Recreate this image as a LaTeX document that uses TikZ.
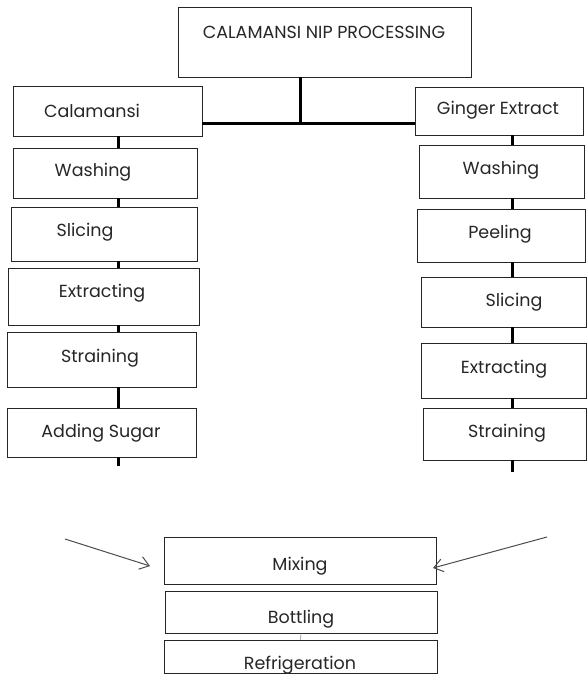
\documentclass[tikz,border=0pt]{standalone}
\usepackage{fontspec}
\newfontfamily\stepfont{Poppins}
\usepackage{tikz}
\usetikzlibrary{arrows.meta}

\begin{document}
\begin{tikzpicture}[
  x=1pt, y=-1pt,
  stepbox/.style={draw=black!85, line width=0.9pt, inner sep=0pt},
  steptext/.style={font=\stepfont\fontsize{17.5}{20}\selectfont, text=black!85, anchor=base, inner sep=0pt},
  link/.style={line width=3pt, black},
  thinlink/.style={line width=0.6pt, black!45},
  feed/.style={-{Straight Barb[length=9pt,width=13pt]}, line width=1pt, black!70},
]
\useasboundingbox (0,0) rectangle (586,674);

% Title
\node[stepbox, minimum width=293, minimum height=70, label={[steptext, xshift=-0.5, yshift=10]center:CALAMANSI NIP PROCESSING}] (title) at (324.5,42) {};

% Calamansi branch
\node[stepbox, minimum width=189, minimum height=50, label={[steptext, xshift=-15.5]center:Calamansi}] (cal) at (107.5,111) {};
\node[stepbox, minimum width=184, minimum height=50, label={[steptext, xshift=-12, yshift=1]center:Washing}] (lwash) at (105,173) {};
\node[stepbox, minimum width=186, minimum height=54, label={[steptext, xshift=-19, yshift=2]center:Slicing}] (lslice) at (104,234) {};
\node[stepbox, minimum width=191, minimum height=57, label={[steptext, xshift=-1.5, yshift=3.5]center:Extracting}] (lextr) at (103.5,296.5) {};
\node[stepbox, minimum width=189, minimum height=55, label={[steptext, xshift=-1.5, yshift=1.5]center:Straining}] (lstrain) at (101.5,359.5) {};
\node[stepbox, minimum width=189, minimum height=49, label={[steptext, xshift=-0.5, yshift=-0.5]center:Adding Sugar}] (sugar) at (101.5,432.5) {};

% Ginger branch
\node[stepbox, minimum width=168, minimum height=48, label={[steptext, xshift=-1, yshift=1]center:Ginger Extract}] (gin) at (499,111) {};
\node[stepbox, minimum width=165, minimum height=53, label={[steptext, xshift=-0.5, yshift=1.5]center:Washing}] (rwash) at (501.5,171.5) {};
\node[stepbox, minimum width=168, minimum height=53, label={[steptext, xshift=-1, yshift=1.5]center:Peeling}] (peel) at (501,235.5) {};
\node[stepbox, minimum width=165, minimum height=50, label={[steptext, xshift=10.5]center:Slicing}] (rslice) at (503.5,302) {};
\node[stepbox, minimum width=165, minimum height=55, label={[steptext, xshift=0.5, yshift=1.5]center:Extracting}] (rextr) at (503.5,370.5) {};
\node[stepbox, minimum width=163, minimum height=52, label={[steptext, xshift=2.5, yshift=1]center:Straining}] (rstrain) at (504.5,434) {};

% Final steps
\node[stepbox, minimum width=272, minimum height=47, label={[steptext, yshift=-5.5]center:Mixing}] (mix) at (300,560.5) {};
\node[stepbox, minimum width=272, minimum height=42, label={[steptext, yshift=-7]center:Bottling}] (bottle) at (301,612) {};
\node[stepbox, minimum width=273, minimum height=33, label={[steptext, xshift=-0.5, yshift=-8.5]center:Refrigeration}] (fridge) at (300.5,656.5) {};

% Helper coordinates
\coordinate (hub) at (300,124);
\coordinate (lcol) at (118,0);
\coordinate (rcol) at (512,0);
\coordinate (lend) at (118,466);
\coordinate (rend) at (512,472);
\coordinate (lfrom) at (65,539);
\coordinate (lto) at (150,566);
\coordinate (rfrom) at (547,537);
\coordinate (rto) at (433,568);

% Split
\draw[link] (title.south -| hub) -- (hub);
\draw[link] (cal.east |- hub) -- (gin.west |- hub);

% Left column
\draw[link] (cal.south -| lcol) -- (lwash.north -| lcol);
\draw[link] (lwash.south -| lcol) -- (lslice.north -| lcol);
\draw[link] (lslice.south -| lcol) -- (lextr.north -| lcol);
\draw[link] (lextr.south -| lcol) -- (lstrain.north -| lcol);
\draw[link] (lstrain.south -| lcol) -- (sugar.north -| lcol);
\draw[link] (sugar.south -| lcol) -- (lend);

% Right column
\draw[link] (gin.south -| rcol) -- (rwash.north -| rcol);
\draw[link] (rwash.south -| rcol) -- (peel.north -| rcol);
\draw[link] (peel.south -| rcol) -- (rslice.north -| rcol);
\draw[link] (rslice.south -| rcol) -- (rextr.north -| rcol);
\draw[link] (rextr.south -| rcol) -- (rstrain.north -| rcol);
\draw[link] (rstrain.south -| rcol) -- (rend);

% Into mixing
\draw[feed] (lfrom) -- (lto);
\draw[feed] (rfrom) -- (rto);
\draw[thinlink] (bottle.south) -- (fridge.north);
\end{tikzpicture}
\end{document}
